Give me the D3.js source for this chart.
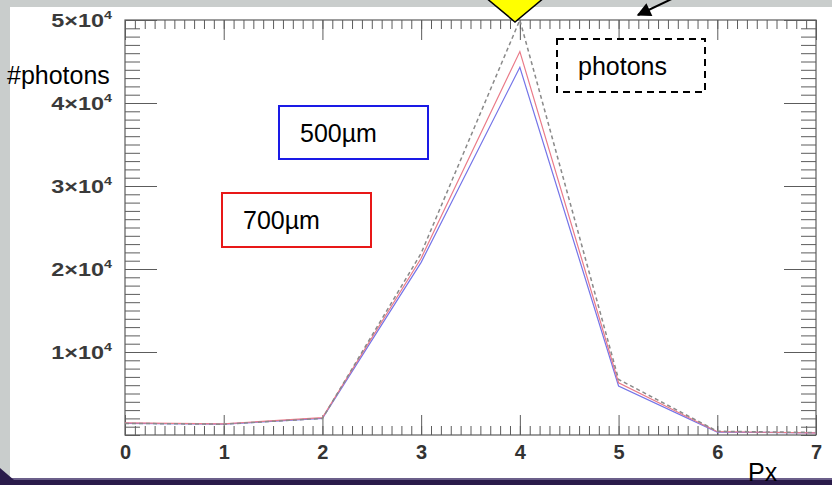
<!DOCTYPE html>
<html>
<head>
<meta charset="utf-8">
<script src="https://cdn.jsdelivr.net/npm/d3@7"></script>
<style>
  body { margin: 0; padding: 0; background: #c9cdcc; }
  svg { display: block; }
  text { font-family: "Liberation Sans", Arial, sans-serif; }
</style>
</head>
<body>
<div id="chart"></div>
<script>

// pixel positions along the detector
var px_values = [0, 1, 2, 3, 4, 5, 6, 7];

// counts
var photons_values = [1400, 1300, 2000, 21900, 50000, 6700, 450, 300];
var um700_values   = [1450, 1350, 2100, 21300, 46200, 6300, 400, 250];
var um500_values   = [1400, 1300, 2000, 20800, 44300, 5900, 350, 250];

var x_ticks = [0, 1, 2, 3, 4, 5, 6, 7];
var y_ticks = [10000, 20000, 30000, 40000, 50000];
var y_tick_labels = ["1\u00d710", "2\u00d710", "3\u00d710", "4\u00d710", "5\u00d710"];
var y_tick_exp = "4";

var svg_w = 832;
var svg_h = 485;

var svg = d3.select("#chart")
  .append("svg")
    .attr("width", svg_w)
    .attr("height", svg_h);

// page background: grey strips, white panel, dark band at the bottom
svg.append("rect")
  .attr("x", 0).attr("y", 0)
  .attr("width", svg_w).attr("height", svg_h)
  .attr("fill", "#c9cdcc");

svg.append("rect")
  .attr("x", 10).attr("y", 7)
  .attr("width", svg_w - 10).attr("height", 471)
  .attr("fill", "#ffffff");

svg.append("rect")
  .attr("x", 0).attr("y", 478)
  .attr("width", svg_w).attr("height", 2)
  .attr("fill", "#6b5f8a");

svg.append("rect")
  .attr("x", 0).attr("y", 480)
  .attr("width", svg_w).attr("height", 5)
  .attr("fill", "#2a1b4a");

svg.append("polygon")
  .attr("points", "0,468 14,480 0,480")
  .attr("fill", "#2a1b4a");

// scales
var x = d3.scaleLinear().domain([0, 7]).range([125, 816]);
var y = d3.scaleLinear().domain([0, 50000]).range([435, 20]);

var axis_col = "#5c5c5c";

// minor ticks
var x_minor = d3.range(0, 71).map(function(i){ return i / 10; });
var y_minor = d3.range(0, 51).map(function(i){ return i * 1000; });

svg.append("g")
  .attr("transform", "translate(0," + y(0) + ")")
  .call(d3.axisBottom(x).tickValues(x_minor).tickSize(-9).tickFormat(""));

svg.append("g")
  .attr("transform", "translate(0," + y(50000) + ")")
  .call(d3.axisTop(x).tickValues(x_minor).tickSize(-9).tickFormat(""));

svg.append("g")
  .attr("transform", "translate(" + x(0) + ",0)")
  .call(d3.axisLeft(y).tickValues(y_minor).tickSize(-15).tickFormat(""));

svg.append("g")
  .attr("transform", "translate(" + x(7) + ",0)")
  .call(d3.axisRight(y).tickValues(y_minor).tickSize(-15).tickFormat(""));

// major ticks
var x_axis = svg.append("g")
  .attr("transform", "translate(0," + y(0) + ")")
  .call(d3.axisBottom(x).tickValues(x_ticks).tickSizeInner(-20).tickSizeOuter(0).tickPadding(10)
    .tickFormat(d3.format("d")));

x_axis.selectAll("text")
  .attr("fill", "#333")
  .style("font-size", "20px")
  .style("font-weight", "bold");

svg.append("g")
  .attr("transform", "translate(0," + y(50000) + ")")
  .call(d3.axisTop(x).tickValues(x_ticks).tickSize(-20).tickFormat(""));

svg.append("g")
  .attr("transform", "translate(" + x(0) + ",0)")
  .call(d3.axisLeft(y).tickValues(y_ticks).tickSize(-32).tickFormat(""));

svg.append("g")
  .attr("transform", "translate(" + x(7) + ",0)")
  .call(d3.axisRight(y).tickValues(y_ticks).tickSize(-32).tickFormat(""));

// y labels as 5x10^4 with a raised exponent, widened like the original
var y_labels = svg.selectAll("myYLabels")
  .data(y_ticks)
  .enter()
  .append("text")
    .attr("transform", function(d){ return "translate(112," + (y(d) + 7) + ") scale(1.3,1)"; })
    .attr("text-anchor", "end")
    .attr("fill", "#3a3a3a")
    .style("font-size", "18px")
    .style("font-weight", "bold")
    .text(function(d, i){ return y_tick_labels[i]; });

y_labels.append("tspan")
  .attr("dy", "-8")
  .style("font-size", "11px")
  .text(y_tick_exp);

svg.selectAll(".domain").remove();
svg.selectAll(".tick line").attr("stroke", axis_col);

// frame
svg.append("rect")
  .attr("x", x(0)).attr("y", y(50000))
  .attr("width", x(7) - x(0)).attr("height", y(0) - y(50000))
  .attr("fill", "none")
  .attr("stroke", axis_col)
  .attr("stroke-width", 1.2);

// curves
var series = [
  {name: "um500", values: um500_values, color: "#7474e8", dash: null, width: 1.2},
  {name: "um700", values: um700_values, color: "#ea7a88", dash: null, width: 1.2},
  {name: "photons", values: photons_values, color: "#8a8a8a", dash: "4,3", width: 1.5}
];

var line = d3.line()
  .x(function(d, i) { return x(px_values[i]); })
  .y(function(d) { return y(d); });

svg.selectAll("myLines")
  .data(series)
  .enter()
  .append("path")
    .attr("d", function(d){ return line(d.values); })
    .attr("class", function(d){ return d.name; })
    .attr("stroke", function(d){ return d.color; })
    .attr("stroke-dasharray", function(d){ return d.dash; })
    .style("stroke-width", function(d){ return d.width; })
    .style("fill", "none");

// axis titles
svg.append("text")
  .attr("x", 7).attr("y", 84)
  .style("font-size", "25px")
  .text("#photons");

svg.append("text")
  .attr("x", 748).attr("y", 481)
  .style("font-size", "25px")
  .text("Px");

// legend boxes
svg.append("rect")
  .attr("x", 279).attr("y", 106).attr("width", 149).attr("height", 53)
  .attr("fill", "none").attr("stroke", "#1a1ae6").attr("stroke-width", 2);
svg.append("text")
  .attr("x", 300).attr("y", 142)
  .style("font-size", "25px")
  .text("500\u00b5m");

svg.append("rect")
  .attr("x", 222).attr("y", 193).attr("width", 149).attr("height", 54)
  .attr("fill", "none").attr("stroke", "#e81818").attr("stroke-width", 2);
svg.append("text")
  .attr("x", 243).attr("y", 229)
  .style("font-size", "25px")
  .text("700\u00b5m");

svg.append("rect")
  .attr("x", 557).attr("y", 39).attr("width", 148).attr("height", 53)
  .attr("fill", "none").attr("stroke", "#000").attr("stroke-width", 2)
  .attr("stroke-dasharray", "7,5");
svg.append("text")
  .attr("x", 578).attr("y", 75)
  .style("font-size", "25px")
  .text("photons");

// yellow marker on the peak and the pointer arrow
svg.append("polygon")
  .attr("points", "485,-3 515,-28 545,-3 515,22")
  .attr("fill", "#ffff00")
  .attr("stroke", "#000")
  .attr("stroke-width", 1.5);

svg.append("defs").append("marker")
  .attr("id", "arrowhead")
  .attr("viewBox", "0 0 10 10")
  .attr("refX", 9).attr("refY", 5)
  .attr("markerWidth", 8).attr("markerHeight", 7)
  .attr("orient", "auto")
  .append("path")
    .attr("d", "M0,0 L10,5 L0,10 z")
    .attr("fill", "#000");

svg.append("line")
  .attr("x1", 678).attr("y1", -4)
  .attr("x2", 638).attr("y2", 15)
  .attr("stroke", "#000")
  .attr("stroke-width", 2)
  .attr("marker-end", "url(#arrowhead)");

</script>
</body>
</html>
